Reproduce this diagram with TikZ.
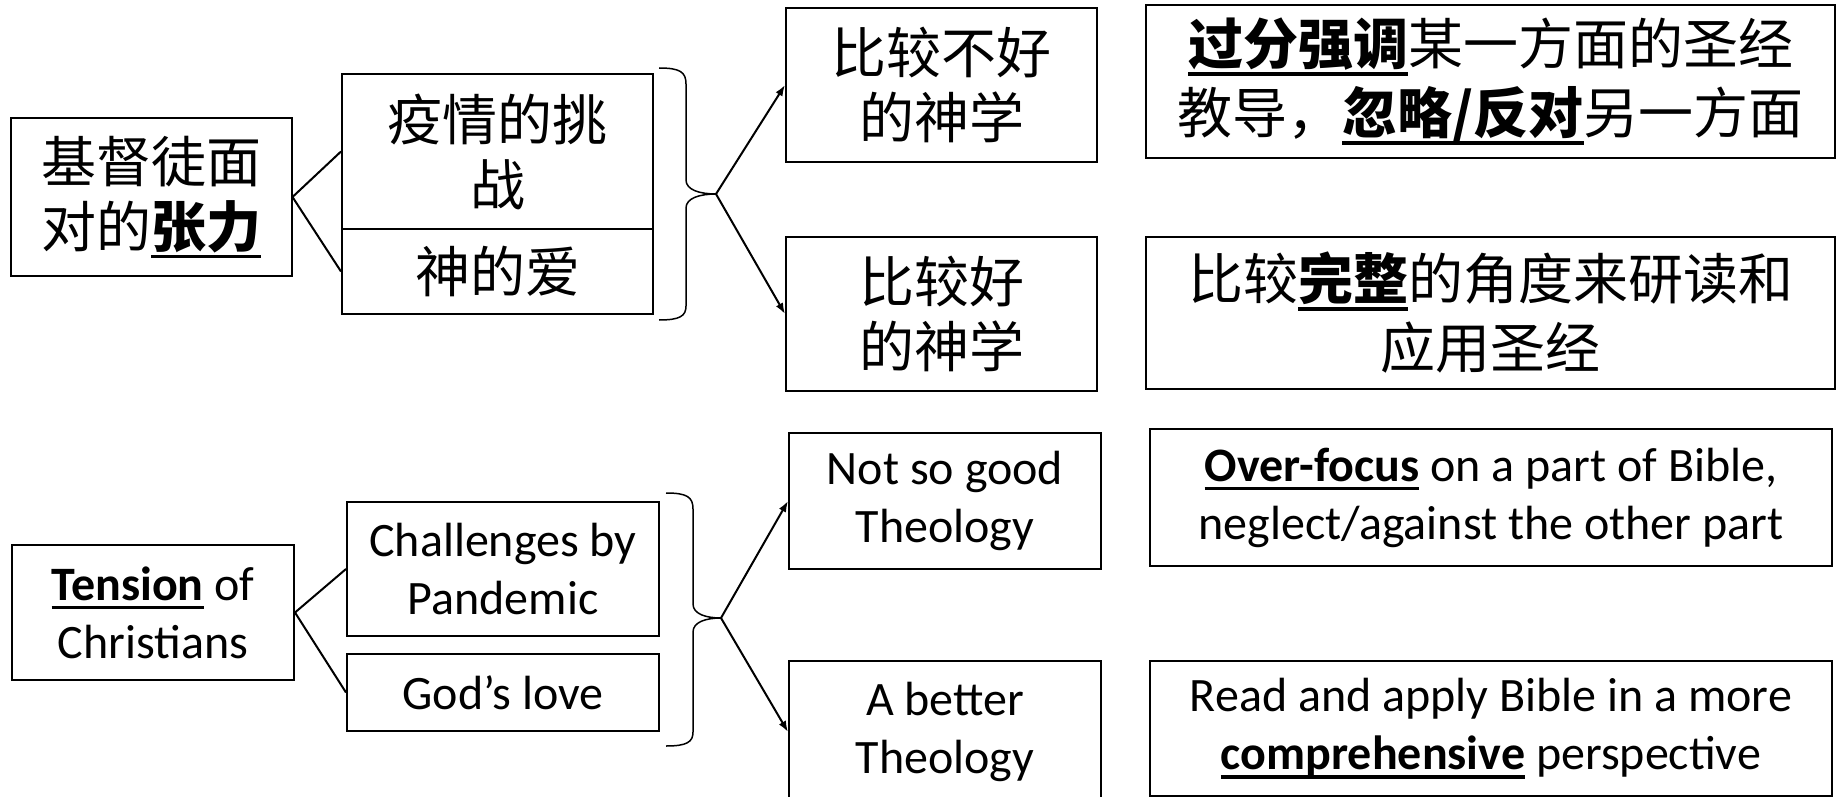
\documentclass[tikz,border=0pt]{standalone}
\usepackage{fontspec}
\setmainfont{Carlito}
\newfontfamily\cjk{Noto Sans CJK SC}
\usetikzlibrary{arrows.meta}
\newcommand\ulb[2][9pt]{\sbox0{#2}\rlap{\raisebox{-#1}{\rule{\wd0}{3.5pt}}}\usebox0}
\tikzset{
  box/.style={draw,line width=2pt,align=center,inner sep=0pt},
  cn/.style={font=\cjk\fontsize{55}{65}\selectfont},
  en/.style={font=\fontsize{48}{58}\selectfont},
  link/.style={line width=2pt},
  arr/.style={line width=2pt,-{Latex[length=11pt,width=8pt]}},
  brc/.style={line width=1.5pt}
}
\begin{document}
\begin{tikzpicture}[x=1pt,y=-1pt]
\useasboundingbox (0,0) rectangle (1839,797);
% top (Chinese)
\node[box,cn,minimum width=281,minimum height=158] (a) at (151,197) {基督徒面\\对的\ulb[11pt]{\textbf{张力}}};
\node[box,cn,minimum width=311,minimum height=155] (b) at (497.5,151.5) {疫情的挑\\战};
\node[box,cn,minimum width=311,minimum height=85] (c) at (497.5,271.5) {神的爱};
\node[box,cn,minimum width=311,minimum height=154] (d) at (941.5,85) {比较不好\\的神学};
\node[box,cn,minimum width=311,minimum height=154] (e) at (941.5,314) {比较好\\的神学};
\node[box,cn,font=\cjk\fontsize{55}{69}\selectfont,minimum width=689,minimum height=153] (f) at (1490.5,81.5) {\ulb[11pt]{\textbf{过分强调}}某一方面的圣经\\教导，\ulb[11pt]{\textbf{忽略/反对}}另一方面};
\node[box,cn,font=\cjk\fontsize{55}{69}\selectfont,minimum width=689,minimum height=152] (g) at (1490.5,313) {比较\ulb[11pt]{\textbf{完整}}的角度来研读和\\应用圣经};
\draw[link] (a.east) -- (b.west);
\draw[link] (a.east) -- (c.west);
\coordinate (t1) at (716,194);
\draw[brc] (659,68) .. controls (680,68) and (686,72) .. (686,84) -- (686,180)
  .. controls (686,190) and (700,194) .. (t1)
  .. controls (700,194) and (686,198) .. (686,208) -- (686,306)
  .. controls (686,316) and (680,320) .. (659,320);
\draw[arr] (t1) -- (d.west);
\draw[arr] (t1) -- (e.west);
% bottom (English)
\node[box,en,minimum width=282,minimum height=135] (h) at (153,612.5) {\ulb{\textbf{Tension}} of\\Christians};
\node[box,en,minimum width=312,minimum height=134] (i) at (503,569) {Challenges by\\Pandemic};
\node[box,en,minimum width=312,minimum height=77] (j) at (503,692.5) {God’s love};
\node[box,en,minimum width=312,minimum height=136] (k) at (945,501) {Not so good\\Theology};
\node[box,en,minimum width=312,minimum height=142] (l) at (945,732) {A better\\Theology};
\node[box,en,minimum width=682,minimum height=137] (m) at (1491,497.5) {\ulb{\textbf{Over-focus}} on a part of Bible,\\neglect/against the other part};
\node[box,en,minimum width=682,minimum height=135] (n) at (1491,728.5) {Read and apply Bible in a more\\\ulb{\textbf{comprehensive}} perspective};
\draw[link] (h.east) -- (i.west);
\draw[link] (h.east) -- (j.west);
\coordinate (t2) at (721,618);
\draw[brc] (666,493) .. controls (687,493) and (693,497) .. (693,509) -- (693,604)
  .. controls (693,614) and (706,618) .. (t2)
  .. controls (706,618) and (693,622) .. (693,632) -- (693,732)
  .. controls (693,742) and (687,746) .. (666,746);
\draw[arr] (t2) -- (k.west);
\draw[arr] (t2) -- (l.west);
\end{tikzpicture}
\end{document}
